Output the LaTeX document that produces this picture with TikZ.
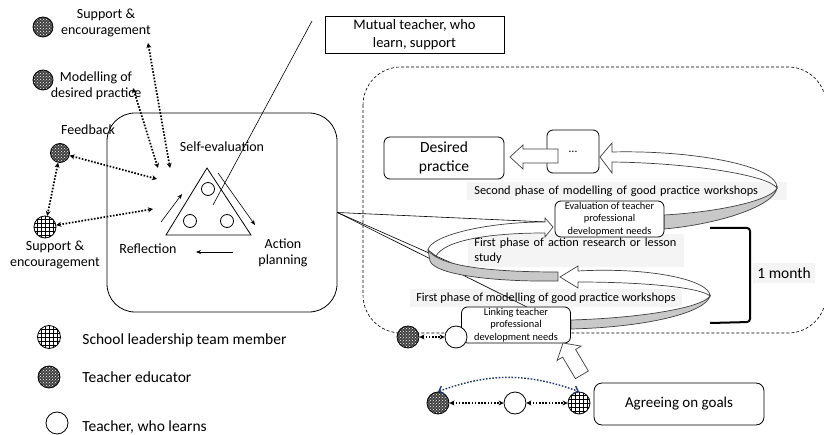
\documentclass[tikz,border=0pt]{standalone}
\usepackage{fontspec}
\setmainfont{Carlito}
\usepackage{xcolor}
\usetikzlibrary{arrows.meta,positioning,patterns}

\definecolor{ribbongray}{RGB}{200,200,200}
\definecolor{labelbg}{RGB}{244,244,244}
\definecolor{navyline}{RGB}{31,56,100}

\begin{document}
\begin{tikzpicture}[x=1pt, y=-1pt, >=Stealth, line width=0.8pt,
  lbl/.style={align=center, inner sep=1pt, font=\fontsize{14}{16.5}\selectfont},
  leg/.style={anchor=west, inner sep=0pt, font=\fontsize{15.5}{18}\selectfont},
  box/.style={draw, rounded corners=6pt, align=center, inner sep=0pt},
  smallbox/.style={box, fill=white, minimum width=109pt, minimum height=36pt, font=\fontsize{10.4}{12.4}\selectfont},
  phase/.style={fill=labelbg, inner sep=0pt, font=\fontsize{12.3}{14.2}\selectfont},
  educ/.style={circle, draw, minimum size=20pt, inner sep=0pt, preaction={fill=black!75}, pattern=crosshatch dots, pattern color=white},
  lead/.style={circle, draw, fill=white, minimum size=22pt, inner sep=0pt,
    path picture={\draw[line width=0.5pt] ([shift={(-1.5,-1.5)}]path picture bounding box.north west) grid[step=4pt] (path picture bounding box.south east);}},
  learner/.style={circle, draw, fill=white, minimum size=22pt, inner sep=0pt},
  mini/.style={circle, draw, minimum size=13pt, inner sep=0pt},
  dotlink/.style={line width=1.7pt, dash pattern=on 1.6pt off 1.6pt, {Stealth[length=5pt,width=5pt]}-{Stealth[length=5pt,width=5pt]}},
  cyc/.style={line width=0.6pt, -{Stealth[length=5pt,width=4pt]}},
  ribbonfront/.style={draw=black!75, fill=white, line width=0.7pt},
  ribbonback/.style={draw=black!75, fill=ribbongray, line width=0.7pt},
  pointer/.style={draw, line width=0.6pt}]
\useasboundingbox (0,0) rectangle (824,435);

% reflection cycle
\node[draw, rounded corners=28pt, minimum width=230pt, minimum height=199pt] (cyclebox) at (222,212.5) {};
\draw (207,168) -- (166,235) -- (251,235) -- cycle;
\node[mini] (ca) at (208,189) {};
\node[mini] (cb) at (190,221) {};
\node[mini] (cc) at (227,221) {};
\node[lbl] (selfev) at (222,147) {Self-evaluation};
\node[lbl] (reflect) at (148,249) {Reflection};
\node[lbl] (action) at (283,253) {Action\\planning};
\coordinate (r1) at (161,222); \coordinate (r2) at (182,194);
\coordinate (a1) at (218,173); \coordinate (a2) at (255,225);
\coordinate (p1) at (233,252); \coordinate (p2) at (196,252);
\draw[cyc] (r1) -- (r2);
\draw[cyc] (a1) -- (a2);
\draw[cyc] (p1) -- (p2);

% support around the cycle
\node[educ] (support) at (43,27) {};
\node[lbl] (supportlbl) at (106,23) {Support \&\\encouragement};
\node[educ] (model) at (43,80) {};
\node[lbl] (modellbl) at (96,86) {Modelling of\\desired practice};
\node[lbl] (feedlbl) at (88,130) {Feedback};
\node[educ, minimum size=19pt] (feed) at (60,153) {};
\node[lead] (leader) at (45,227) {};
\node[lbl] (leaderlbl) at (55,255) {Support \&\\encouragement};
\coordinate (s1) at (148,43); \coordinate (t1) at (170,168);
\coordinate (s2) at (133,88); \coordinate (t2) at (158,168);
\coordinate (t3) at (157,179); \coordinate (t4) at (153,209);
\draw[dotlink] (s1) -- (t1);
\draw[dotlink] (s2) -- (t2);
\draw[dotlink] (feed) -- (t3);
\draw[dotlink] (leader) -- (t4);
\draw[dotlink] (feed) -- (leader);

% mutual support
\node[draw, minimum width=179pt, minimum height=37pt, align=center, inner sep=0pt, font=\fontsize{14.5}{18}\selectfont] (mutual) at (414.5,34.5) {Mutual teacher, who\\learn, support};
\coordinate (mutualtip) at (312,21);
\coordinate (mutualend) at (213,205);
\draw[pointer] (mutualtip) -- (mutualend);

% phases
\draw[densely dashed, line width=0.6pt, rounded corners=38pt] (363,67) rectangle (826,333);
\node[phase, anchor=west, text width=306pt, align=left, inner xsep=7pt, inner ysep=4pt] (second) at (467,191) {Second phase of modelling of good practice workshops};
\node[phase, anchor=north west, text width=204pt, align=left, inner xsep=6pt, inner ysep=4pt] (actres) at (468,234) {First phase of action research or lesson\\study};
\node[phase, inner xsep=6pt, inner ysep=4pt] (firstmod) at (546,298) {First phase of modelling of good practice workshops};
\node[phase, anchor=west, inner xsep=4pt, inner ysep=5pt, font=\fontsize{15.5}{18}\selectfont] (month) at (753,273) {1 month};
\draw[line width=2pt, rounded corners=3pt] (710,228) -- (750,228) -- (750,322) -- (710,323);

\coordinate (evaltip) at (547,222);
\coordinate (linktip) at (527,307);
\coordinate (ribbontip) at (472,272);
\draw[pointer] (cyclebox.east) -- (evaltip);
\draw[pointer] (cyclebox.east) -- (linktip);
\draw[pointer] (cyclebox.east) -- (ribbontip);

% spiral
\draw[ribbonback] (571,320) .. controls (640,318) and (702,308) .. (710,296) .. controls (706,312) and (650,327) .. (571,329) -- cycle;
\draw[ribbonfront] (578,271) .. controls (650,267) and (710,280) .. (710,296) .. controls (700,287) and (640,282) .. (578,282) -- (578,288) -- (560,277) -- (578,266) -- cycle;
\draw[ribbonfront] (428,250) .. controls (430,236) and (485,222) .. (545,222) -- (545,218) -- (553,227) -- (545,237) -- (545,233) .. controls (490,233) and (445,240) .. (436,256) -- cycle;
\draw[ribbonback] (428,250) .. controls (440,268) and (500,272) .. (558,272) -- (558,281) .. controls (495,282) and (435,275) .. (430,261) -- cycle;
\draw[ribbonback] (664,215) .. controls (720,212) and (772,200) .. (777,188) .. controls (774,206) and (720,224) .. (664,229) -- cycle;
\draw[ribbonfront] (612,152) .. controls (690,150) and (778,165) .. (777,188) .. controls (768,175) and (690,163) .. (612,162) -- (612,173) -- (600,157) -- (612,143) -- cycle;

\node[box, minimum width=120pt, minimum height=42pt, font=\fontsize{15.5}{19}\selectfont] (desired) at (444,158) {Desired\\practice};
\node[box, minimum width=52pt, minimum height=43pt, font=\fontsize{12}{14}\selectfont] (more) at (573,151.5) {\dots};
\draw[ribbonfront] (558,149) -- (523,149) -- (523,145) -- (510,157) -- (523,169) -- (523,163) -- (558,163) -- cycle;
\node[smallbox] (evalbox) at (609.5,219) {Evaluation of teacher\\professional\\development needs};
\node[smallbox] (linkbox) at (516,325) {Linking teacher\\professional\\development needs};

% goals
\node[educ, minimum size=22pt] (linkeduc) at (408,337) {};
\node[learner] (linklearner) at (456,337) {};
\draw[dotlink] (linkeduc) -- (linklearner);
\draw[ribbonfront] (563,343) -- (581.1,346.1) -- (575.6,349.5) -- (588.4,371.0) -- (575.4,378.6) -- (562.6,357.1) -- (557.1,360.5) -- cycle;
\node[educ, minimum size=22pt] (goaleduc) at (438,403) {};
\node[learner] (goallearner) at (515,403) {};
\node[lead] (goallead) at (579,403) {};
\draw[dotlink] (goaleduc) -- (goallearner);
\draw[dotlink] (goallearner) -- (goallead);
\draw[dotlink, draw=navyline, line width=1.4pt, {Straight Barb[length=4pt]}-{Straight Barb[length=4pt]}] (goaleduc.north) to[bend left=20] (goallead.north);
\node[box, rounded corners=8pt, minimum width=170pt, minimum height=42pt, font=\fontsize{15}{18}\selectfont] (agree) at (679,404) {Agreeing on goals};

% key
\node[lead, minimum size=23pt] (keylead) at (49,337) {};
\node[leg] (keyleadlbl) at (82,340) {School leadership team member};
\node[educ, minimum size=22pt] (keyeduc) at (49,377) {};
\node[leg] (keyeduclbl) at (82,377) {Teacher educator};
\node[learner] (keylearner) at (57,423) {};
\node[leg] (keylearnerlbl) at (82,427) {Teacher, who learns};
\end{tikzpicture}
\end{document}
